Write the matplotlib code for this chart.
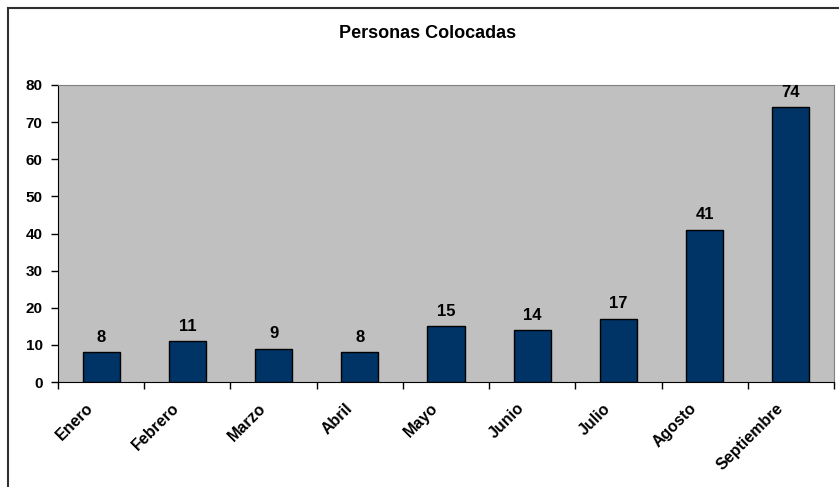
import matplotlib

matplotlib.use("Agg")
import matplotlib.pyplot as plt
import matplotlib.transforms as mtransforms
import numpy as np
from matplotlib.lines import Line2D

plt.rcParams["font.family"] = ["Liberation Sans", "DejaVu Sans"]
plt.rcParams["font.weight"] = "bold"

meses = ["Enero", "Febrero", "Marzo", "Abril", "Mayo", "Junio", "Julio",
         "Agosto", "Septiembre"]
personas = [8, 11, 9, 8, 15, 14, 17, 41, 74]
y_ticks = [0, 10, 20, 30, 40, 50, 60, 70, 80]

W, H = 839, 487
fig = plt.figure(figsize=(W / 100, H / 100), dpi=100)
ax = fig.add_axes([58 / W, 1 - 382 / H, (834 - 58) / W, (382 - 85) / H])

x = np.arange(len(meses))
ax.bar(x, personas, width=0.43, color="#003366", edgecolor="black", linewidth=1, zorder=3)
for xi, v in zip(x, personas):
    ax.text(xi, v + 2.0, str(v), ha="center", va="bottom", fontsize=12, fontweight="bold")

ax.set_facecolor("#C0C0C0")
ax.set_xlim(-0.5, len(meses) - 0.5)
ax.set_ylim(0, 80)
ax.set_yticks(y_ticks)
ax.tick_params(axis="y", labelsize=11, length=5, width=1, pad=6)

# ticks between categories, labels drawn by hand at category centers
ax.set_xticks(np.arange(len(meses) + 1) - 0.5)
ax.set_xticklabels([])
ax.tick_params(axis="x", which="major", length=5, width=1)
offset = mtransforms.ScaledTranslation(-10 / 100, -24 / 100, fig.dpi_scale_trans)
for xi, name in zip(x, meses):
    ax.text(xi, 0, name, transform=ax.get_xaxis_transform() + offset,
            rotation=45, ha="right", va="center", rotation_mode="anchor",
            fontsize=11.5, fontweight="bold")

for side in ["top", "right"]:
    ax.spines[side].set_color("#808080")
for side in ["left", "bottom"]:
    ax.spines[side].set_color("black")

fig.text(428 / W, 1 - 33 / H, "Personas Colocadas", ha="center", va="center",
         fontsize=13, fontweight="bold")

# outer chart border (left and top visible)
fig.add_artist(Line2D([7.5 / W, 7.5 / W], [0, 1 - 7.5 / H], color="#303030", linewidth=1.5,
                      transform=fig.transFigure))
fig.add_artist(Line2D([7.5 / W, 1], [1 - 7.5 / H, 1 - 7.5 / H], color="#303030", linewidth=1.5,
                      transform=fig.transFigure))

fig.savefig("out.png", dpi=100)
